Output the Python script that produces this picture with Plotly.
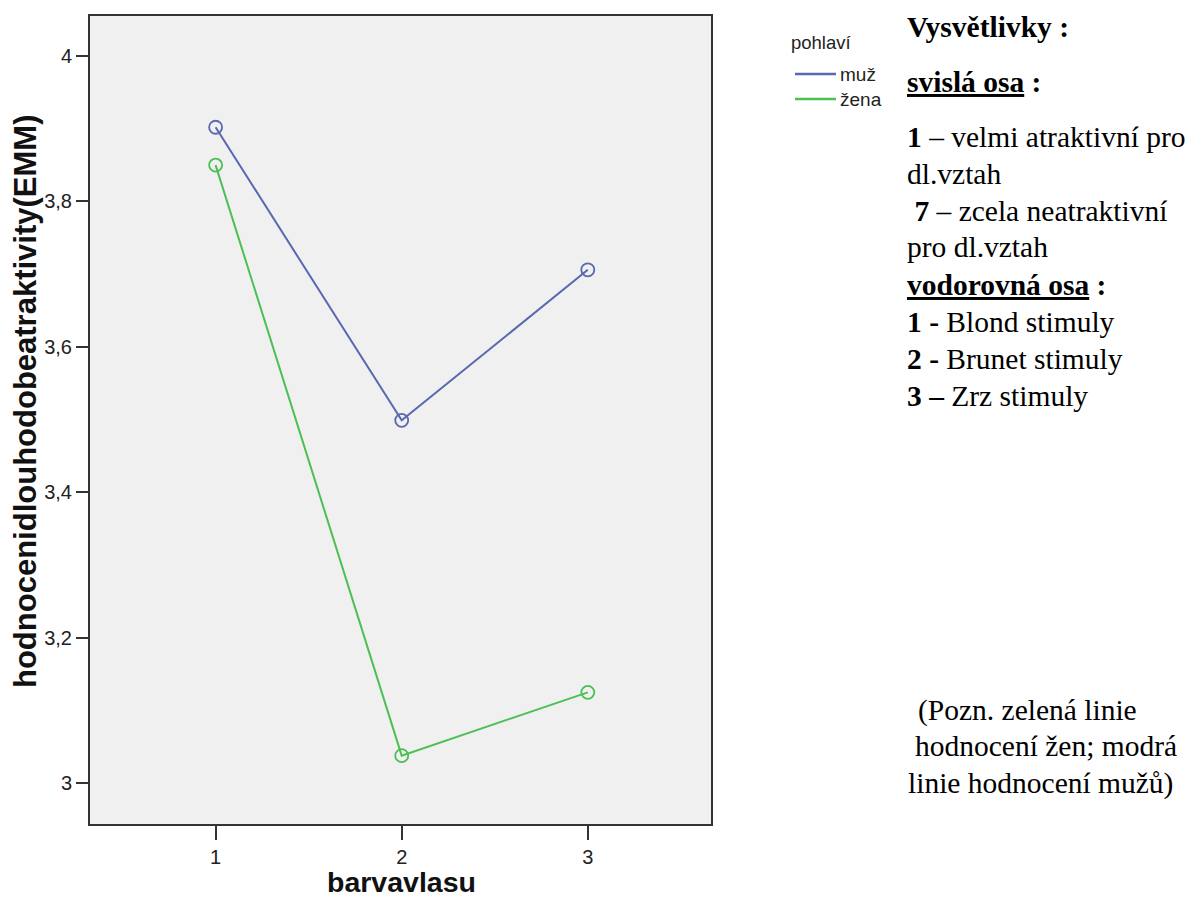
import plotly.graph_objects as go

# ---- data ----
x_cats = [1, 2, 3]
muz = [3.902, 3.499, 3.706]
zena = [3.850, 3.038, 3.125]
series_names = ["muž", "žena"]
series_colors = ["#5a68b0", "#4cbf55"]
y_ticks = [3.0, 3.2, 3.4, 3.6, 3.8, 4.0]
x_title = "barvavlasu"
y_title = "hodnocenidlouhodobeatraktivity(EMM)"
legend_title = "pohlaví"

notes_left = [
    "<b>Vysvětlivky :</b>",
    "<b><u>svislá osa</u> :</b>",
    "<b>1</b> – velmi atraktivní pro",
    "dl.vztah",
    "\u00a0<b>7</b> – zcela neatraktivní",
    "pro dl.vztah",
    "<b><u>vodorovná osa</u> :</b>",
    "<b>1 -</b> Blond stimuly",
    "<b>2 -</b> Brunet stimuly",
    "<b>3 –</b> Zrz stimuly",
]
notes_left_y = [27, 82, 137, 174, 211, 247, 285, 322, 359, 396]
notes_bottom = [
    "(Pozn. zelená linie",
    "hodnocení žen; modrá",
    "linie hodnocení mužů)",
]
notes_bottom_x = [916, 913, 906]
notes_bottom_y = [710, 746, 783]

# ---- layout geometry ----
W, H = 1198, 911
L, R, T, B = 90, 711, 16, 824


def px(x):
    return (x - L) / (R - L)


def py(y):
    return (B - y) / (B - T)


fig = go.Figure()
for name, vals, col in zip(series_names, [muz, zena], series_colors):
    fig.add_trace(go.Scatter(
        x=x_cats, y=vals, mode="lines+markers", name=name,
        line=dict(color=col, width=2),
        marker=dict(symbol="circle-open", size=13, color=col, line=dict(width=1.8)),
        showlegend=False,
    ))

ann = []
shapes = []
serif = dict(family="Liberation Serif", size=29.5, color="black")
for t, y in zip(notes_left, notes_left_y):
    ann.append(dict(text=t, x=px(905), y=py(y), xref="paper", yref="paper",
                    xanchor="left", yanchor="middle", showarrow=False, font=serif))
for t, x, y in zip(notes_bottom, notes_bottom_x, notes_bottom_y):
    ann.append(dict(text=t, x=px(x), y=py(y), xref="paper", yref="paper",
                    xanchor="left", yanchor="middle", showarrow=False, font=serif))

# legend (drawn in paper coordinates)
ann.append(dict(text=legend_title, x=px(822), y=py(42), xref="paper", yref="paper",
                xanchor="center", yanchor="middle", showarrow=False,
                font=dict(family="Liberation Sans", size=18.5, color="#222")))
for name, col, ly in zip(series_names, series_colors, [74, 99]):
    shapes.append(dict(type="line", xref="paper", yref="paper",
                       x0=px(795), x1=px(836), y0=py(ly), y1=py(ly),
                       line=dict(color=col, width=2.5)))
    ann.append(dict(text=name, x=px(838), y=py(ly + 1), xref="paper", yref="paper",
                    xanchor="left", yanchor="middle", showarrow=False,
                    font=dict(family="Liberation Sans", size=19, color="#222")))

# axis titles
ann.append(dict(text="<b>" + y_title + "</b>", x=px(25), y=py(401), xref="paper",
                yref="paper", xanchor="center", yanchor="middle", textangle=-90,
                showarrow=False,
                font=dict(family="Liberation Sans", size=31, color="#111")))
ann.append(dict(text="<b>" + x_title + "</b>", x=px(401), y=py(882), xref="paper",
                yref="paper", xanchor="center", yanchor="middle", showarrow=False,
                font=dict(family="Liberation Sans", size=28.5, color="#111")))

fig.update_layout(
    width=W, height=H,
    margin=dict(l=L, r=W - R, t=T, b=H - B),
    paper_bgcolor="white", plot_bgcolor="#f0f0f0",
    separators=", ",
    font=dict(family="Liberation Sans", color="#222"),
    showlegend=False,
    annotations=ann,
    shapes=shapes,
)
fig.update_xaxes(
    range=[0.325, 3.662], tickvals=x_cats, ticktext=[str(v) for v in x_cats],
    showgrid=False, zeroline=False, showline=True, mirror=True,
    linecolor="#333", linewidth=2, ticks="outside", ticklen=14, tickwidth=2,
    tickcolor="#333", tickfont=dict(size=20, color="#222"),
)
fig.update_yaxes(
    range=[2.944, 4.055], tickvals=y_ticks,
    showgrid=False, zeroline=False, showline=True, mirror=True,
    linecolor="#333", linewidth=2, ticks="outside", ticklen=12, tickwidth=2,
    tickcolor="#333", tickfont=dict(size=20, color="#222"),
)

fig.write_html("out.html")
